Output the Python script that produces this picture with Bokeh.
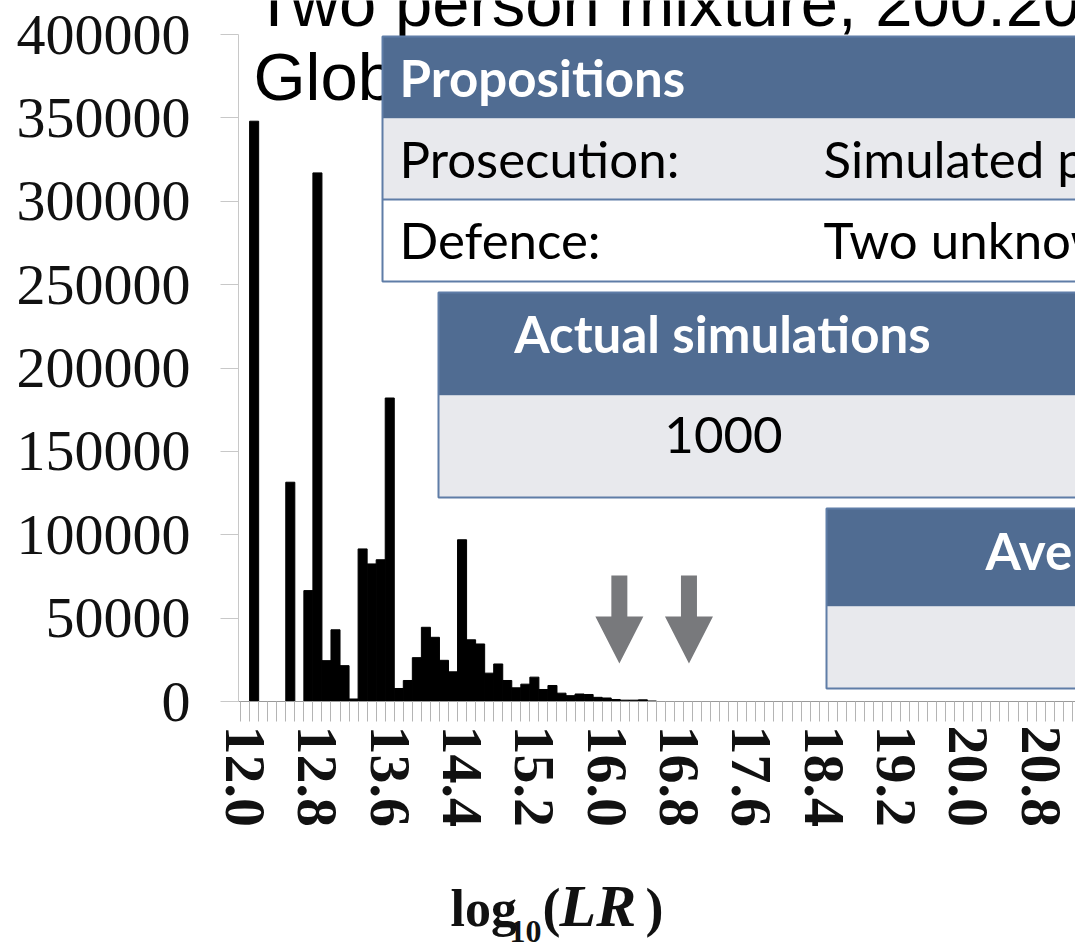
from bokeh.plotting import figure
from bokeh.layouts import column
from bokeh.models import FixedTicker, NumeralTickFormatter
from bokeh.core.properties import value
from bokeh.embed import file_html
from bokeh.resources import INLINE

# ---- data -----------------------------------------------------------------
# histogram of log10(LR), bins of width 0.1 starting at 12.0
bin_start = 12.0
bin_width = 0.1
counts = [0, 348000, 0, 0, 0, 131500, 0, 66500, 317000, 24500,
          43000, 21500, 1500, 91500, 82500, 85000, 182000, 7800, 12600, 26300,
          44500, 38500, 24700, 17800, 97000, 37000, 34500, 17000, 22500, 12600,
          8200, 10400, 14600, 7200, 9600, 5000, 3500, 4500, 4200, 2500,
          2100, 1200, 800, 800, 1000, 300]
x_tick_labels = ["12.0", "12.8", "13.6", "14.4", "15.2", "16.0",
                 "16.8", "17.6", "18.4", "19.2", "20.0", "20.8"]
y_ticks = [0, 50000, 100000, 150000, 200000, 250000, 300000, 350000, 400000]
arrow_lr = [16.14, 16.91]          # marked log10(LR) values

title_lines = ["Two person mixture, 200:200", "Glob"]
prop_rows = [("Prosecution:", "Simulated person and one unknown"),
             ("Defence:", "Two unknown contributors")]
sim_header = "Actual simulations"
sim_value = "1000"
avg_header = "Average"

# ---- layout (pixels) ------------------------------------------------------
W = 1075
H_MAIN, H_LABEL = 880, 64
FRAME_L, FRAME_R, FRAME_T, FRAME_B = 238, 1075, 0, 701
PX_PER_UNIT = 90.4
X0 = 12.0 - (244.6 - FRAME_L) / PX_PER_UNIT
X1 = 12.0 + (FRAME_R - 244.6) / PX_PER_UNIT
Y1 = 400000 * (FRAME_B - FRAME_T) / (FRAME_B - 34)


def px_x(px):
    return X0 + (px - FRAME_L) * (X1 - X0) / (FRAME_R - FRAME_L)


def px_y(py):
    return Y1 * (FRAME_B - py) / (FRAME_B - FRAME_T)


HEAD = "#506C92"
ROW = "#E8E9ED"
EDGE = "#5F7DA7"
SERIF = "Liberation Serif"
SANS = "Lato"
SANS_SHIFT = 19      # baseline correction for the 51px table text
TITLE_SHIFT = 21     # baseline correction for the 67px title text

p = figure(width=W, height=H_MAIN, x_range=(X0, X1), y_range=(0, Y1),
           output_backend="svg", toolbar_location=None, title=None)
p.min_border_left = FRAME_L
p.min_border_right = 0
p.min_border_top = 0
p.min_border_bottom = H_MAIN - FRAME_B
p.outline_line_color = None
p.xgrid.visible = False
p.ygrid.visible = False
p.background_fill_color = "white"
p.border_fill_color = "white"

# ---- histogram bars ---------------------------------------------------------
centres = [round(bin_start + bin_width * i, 2) for i in range(len(counts))]
p.vbar(x=centres, top=counts, width=bin_width, fill_color="black",
       line_color="black", line_width=1)

# ---- axes -------------------------------------------------------------------
yax = p.yaxis[0]
yax.ticker = FixedTicker(ticks=y_ticks)
yax.formatter = NumeralTickFormatter(format="0")
yax.bounds = (0, 400000)
yax.axis_line_color = "#c8c8c8"
yax.major_tick_line_color = "#c8c8c8"
yax.major_tick_out = 18
yax.major_tick_in = 0
yax.minor_tick_out = 0
yax.minor_tick_in = 0
yax.major_label_standoff = 30
yax.major_label_text_font = SERIF
yax.major_label_text_font_size = "58px"
yax.major_label_text_color = "#111111"

x_major = [float(s) for s in x_tick_labels]
n_edges = int(round((X1 - X0) / bin_width)) + 2
x_minor = [round(bin_start - bin_width / 2 + bin_width * i, 3) for i in range(n_edges)]
xax = p.xaxis[0]
xax.ticker = FixedTicker(ticks=x_major, minor_ticks=x_minor)
xax.formatter = NumeralTickFormatter(format="0.0")
xax.major_label_orientation = "vertical"
xax.axis_line_color = "#9a9a9a"
xax.major_tick_out = 20
xax.major_tick_in = 0
xax.major_tick_line_alpha = 0
xax.minor_tick_out = 20
xax.minor_tick_in = 0
xax.minor_tick_line_color = "#b4b4b4"
xax.major_label_standoff = 4
xax.major_label_text_font = SERIF
xax.major_label_text_font_style = "bold"
xax.major_label_text_font_size = "58px"
xax.major_label_text_color = "#111111"

# ---- marker arrows ----------------------------------------------------------
shaft_half = 8 / PX_PER_UNIT
head_half = 24 / PX_PER_UNIT
ys_top, ys_shoulder, ys_tip = px_y(575), px_y(616), px_y(663)
arrow_xs, arrow_ys = [], []
for a in arrow_lr:
    arrow_xs.append([a - shaft_half, a + shaft_half, a + shaft_half, a + head_half,
                     a, a - head_half, a - shaft_half])
    arrow_ys.append([ys_top, ys_top, ys_shoulder, ys_shoulder, ys_tip,
                     ys_shoulder, ys_shoulder])
p.patches(arrow_xs, arrow_ys, fill_color="#78797C", line_color=None)

# ---- slide title ------------------------------------------------------------
p.text(x=[px_x(253), px_x(253)],
       y=[px_y(23 - TITLE_SHIFT), px_y(97 - TITLE_SHIFT)], text=title_lines,
       text_font=value("Liberation Sans"), text_font_size="67px",
       text_color="black", text_baseline="alphabetic", text_align="left")


# ---- tables -----------------------------------------------------------------
def band(left, top, bottom, colour):
    p.quad(left=px_x(left), right=px_x(1300), top=px_y(top), bottom=px_y(bottom),
           fill_color=colour, line_color=None)


def frame_box(left, top, bottom):
    p.quad(left=px_x(left), right=px_x(1300), top=px_y(top), bottom=px_y(bottom),
           fill_color=None, line_color=EDGE, line_width=2)


def hline(left, y):
    p.segment(x0=px_x(left), x1=px_x(1300), y0=px_y(y), y1=px_y(y),
              line_color=EDGE, line_width=2)


def cell_text(texts, xs, ys, style="normal", colour="black", align="left"):
    p.text(x=[px_x(v) for v in xs], y=[px_y(v - SANS_SHIFT) for v in ys], text=texts,
           text_font=value(SANS), text_font_size="51px", text_font_style=style,
           text_color=colour, text_baseline="alphabetic", text_align=align)


# propositions table
band(382, 36, 118, HEAD)
band(382, 118, 199, ROW)
band(382, 199, 281, "white")
hline(382, 199)
frame_box(382, 36, 281)
cell_text(["Propositions"], [399], [96], style="bold", colour="white")
cell_text([r[0] for r in prop_rows], [399, 399], [177, 258])
cell_text([r[1] for r in prop_rows], [823, 823], [177, 258])

# simulations table
band(438, 292, 395, HEAD)
band(438, 395, 497, ROW)
frame_box(438, 292, 497)
cell_text([sim_header], [722], [352], style="bold", colour="white", align="center")
cell_text([sim_value], [723], [453], align="center")

# average table
band(826, 508, 606, HEAD)
band(826, 606, 688, ROW)
frame_box(826, 508, 688)
cell_text([avg_header], [985], [569], style="bold", colour="white")

# ---- axis title strip: log10(LR) with subscript and italic LR ---------------
# shares the histogram's x range, so the frames line up column-wise
q = figure(width=W, height=H_LABEL, x_range=p.x_range, y_range=(H_LABEL, 0),
           output_backend="svg", toolbar_location=None, title=None,
           x_axis_location=None, y_axis_location=None, min_border=0)
q.min_border_left = FRAME_L
q.min_border_right = 0
q.outline_line_color = None
q.grid.visible = False
q.border_fill_color = "white"
q.background_fill_color = "white"

xlab_parts = [("log", 450, 925, 52, "bold"),
              ("10", 509, 942, 32, "bold"),
              ("(", 542, 925, 54, "bold"),
              ("LR", 559, 925, 60, "bold italic"),
              (")", 645, 925, 54, "bold")]
for txt, lx, ly, size, style in xlab_parts:
    q.text(x=[px_x(lx)], y=[ly - H_MAIN - 0.33 * size], text=[txt],
           text_font=value(SERIF), text_font_size=f"{size}px",
           text_font_style=style, text_color="#111111",
           text_baseline="alphabetic", text_align="left")

layout = column(p, q, spacing=0)
open("out.html", "w").write(file_html(layout, INLINE))
